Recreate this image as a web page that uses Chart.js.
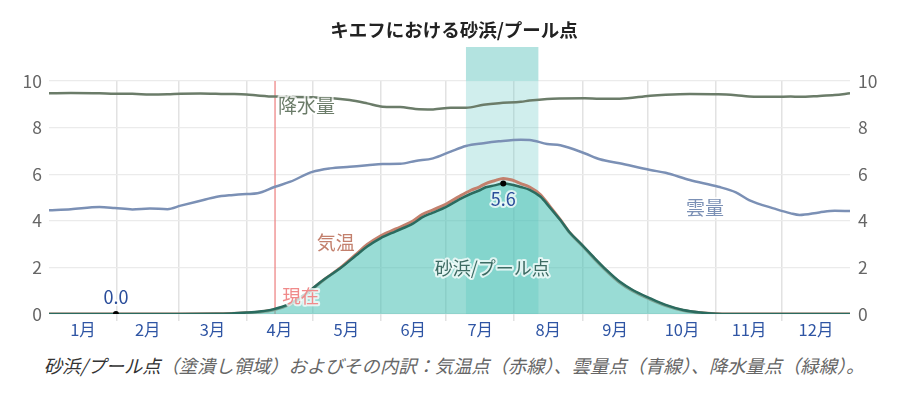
<!DOCTYPE html>
<html lang="ja">
<head>
<meta charset="utf-8">
<title>キエフにおける砂浜/プール点</title>
<script src="https://cdn.jsdelivr.net/npm/chart.js@4.4.1/dist/chart.umd.min.js"></script>
<style>
  body { margin: 0; background: #fff; font-family: "Noto Sans CJK JP", "Noto Sans", sans-serif; }
  #wrap { position: relative; width: 908px; height: 345px; }
  #caption {
    width: 908px; height: 52px; line-height: 40px; text-align: center;
    font-size: 18.3px; font-style: italic; color: #666; white-space: nowrap;
  }
  #caption b { font-weight: normal; color: #333; }
</style>
</head>
<body>
<div id="wrap"><canvas id="beach-chart"></canvas></div>
<div id="caption"><b>砂浜/プール点</b>（塗潰し領域）およびその内訳：気温点（赤線）、雲量点（青線）、降水量点（緑線）。</div>
<script>
// Month axis (day of year)
const monthNames = ['1月', '2月', '3月', '4月', '5月', '6月', '7月', '8月', '9月', '10月', '11月', '12月'];
const monthStarts = [0, 31, 59, 90, 120, 151, 181, 212, 243, 273, 304, 334, 365];

// Beach/pool score and its temperature component
const scoreDays = [0, 30.5, 60, 76, 83, 90, 96, 102, 110, 117, 125, 133, 140, 145, 151, 158, 166, 170, 175, 181, 187, 192, 196, 199, 203, 207, 211, 215, 219, 224, 228, 233, 237, 243, 248, 254, 260, 266, 274, 281, 289, 297, 304, 310, 365];
const beachScore = [0, 0, 0, 0.01, 0.02, 0.06, 0.11, 0.2, 0.46, 0.87, 1.46, 1.98, 2.52, 2.9, 3.25, 3.55, 3.89, 4.15, 4.35, 4.6, 4.92, 5.15, 5.3, 5.44, 5.52, 5.6, 5.55, 5.45, 5.33, 5.03, 4.6, 4.03, 3.53, 2.96, 2.46, 1.89, 1.39, 1.03, 0.67, 0.39, 0.17, 0.06, 0.01, 0, 0];
const tempScore = [0, 0, 0, 0.01, 0.02, 0.05, 0.09, 0.17, 0.42, 0.84, 1.45, 2.0, 2.57, 2.98, 3.35, 3.65, 4.0, 4.27, 4.47, 4.72, 5.05, 5.3, 5.45, 5.6, 5.72, 5.82, 5.75, 5.6, 5.45, 5.12, 4.65, 4.05, 3.52, 2.93, 2.42, 1.85, 1.35, 0.99, 0.63, 0.36, 0.15, 0.05, 0.01, 0, 0];

// Cloud and precipitation components
const climateDays = [0, 10, 23, 30, 38, 46, 54, 60, 69, 76, 83, 90, 95, 103, 110, 120, 128, 137, 145, 152, 160, 167, 175, 183, 190, 198, 205, 215, 219, 227, 233, 244, 251, 260, 274, 281, 292, 305, 313, 319, 331, 338, 342, 351, 358, 365];
const cloudScore = [4.45, 4.5, 4.59, 4.55, 4.49, 4.53, 4.5, 4.65, 4.86, 5.02, 5.1, 5.15, 5.18, 5.46, 5.68, 6.1, 6.25, 6.32, 6.38, 6.44, 6.45, 6.57, 6.68, 6.97, 7.21, 7.33, 7.41, 7.48, 7.47, 7.3, 7.24, 6.9, 6.64, 6.47, 6.18, 6.06, 5.75, 5.46, 5.22, 4.89, 4.51, 4.32, 4.25, 4.36, 4.43, 4.42];
const rainScore = [9.47, 9.48, 9.47, 9.45, 9.45, 9.42, 9.43, 9.45, 9.46, 9.45, 9.44, 9.42, 9.38, 9.33, 9.32, 9.3, 9.27, 9.18, 9.04, 8.9, 8.88, 8.8, 8.78, 8.85, 8.85, 8.98, 9.05, 9.11, 9.16, 9.23, 9.25, 9.26, 9.24, 9.24, 9.37, 9.41, 9.44, 9.43, 9.39, 9.34, 9.32, 9.33, 9.32, 9.36, 9.4, 9.47];

// Minimum / maximum markers, best period, today
const extremeDays = [30.5, 207];
const extremeValues = [0.0, 5.6];
const bestPeriod = [190, 223];
const todayDay = 103;

const yTicks = [0, 2, 4, 6, 8, 10];

const FONT = '"Noto Sans CJK JP", "Noto Sans", sans-serif';

function toPoints(days, values) {
  return days.map((d, i) => ({ x: d, y: values[i] }));
}

const monthMids = monthNames.map((m, i) => (monthStarts[i] + monthStarts[i + 1]) / 2);

// Band, today line and text labels
const overlayPlugin = {
  id: 'overlay',
  beforeDatasetsDraw(chart) {
    const { ctx, chartArea, scales } = chart;
    const x = scales.x;
    const x0 = x.getPixelForValue(bestPeriod[0]);
    const x1 = x.getPixelForValue(bestPeriod[1]);
    ctx.save();
    ctx.fillStyle = '#b3e3e0';
    ctx.fillRect(x0, 47, x1 - x0, chartArea.top - 47);
    ctx.fillStyle = 'rgba(100, 200, 195, 0.3)';
    ctx.fillRect(x0, chartArea.top, x1 - x0, chartArea.bottom - chartArea.top);

    const xt = x.getPixelForValue(todayDay);
    ctx.strokeStyle = '#ee8888';
    ctx.lineWidth = 1.3;
    ctx.beginPath();
    ctx.moveTo(xt, chartArea.top);
    ctx.lineTo(xt, chartArea.bottom);
    ctx.stroke();
    ctx.restore();
  },
  afterDatasetsDraw(chart) {
    const { ctx, scales } = chart;
    const x = scales.x, y = scales.y;
    const label = (text, day, val, color, align, size) => {
      ctx.font = size + 'px ' + FONT;
      ctx.textAlign = align;
      ctx.textBaseline = 'middle';
      ctx.lineJoin = 'round';
      ctx.strokeStyle = 'rgba(255,255,255,0.75)';
      ctx.lineWidth = 4;
      const px = x.getPixelForValue(day), py = y.getPixelForValue(val);
      ctx.strokeText(text, px, py);
      ctx.fillStyle = color;
      ctx.fillText(text, px, py);
    };
    ctx.save();
    label('降水量', 104.3, 8.93, '#6b7c69', 'left', 19);
    label('雲量', 298.9, 4.55, '#7b90b5', 'center', 19);
    label('気温', 130.7, 3.05, '#c3806d', 'center', 19);
    label('砂浜/プール点', 202, 1.97, '#3d6b63', 'center', 18);
    label('現在', todayDay + 3.3, 0.77, '#f08a8a', 'left', 18.5);
    // min above, max below
    label(extremeValues[0].toFixed(1), extremeDays[0], extremeValues[0] + 0.73, '#2a4d9a', 'center', 18);
    label(extremeValues[1].toFixed(1), extremeDays[1], extremeValues[1] - 0.69, '#2a4d9a', 'center', 18);
    ctx.restore();
  }
};

const ctx = document.getElementById('beach-chart').getContext('2d');

new Chart(ctx, {
  type: 'line',
  data: {
    datasets: [
      {
        label: '極値',
        data: toPoints(extremeDays, extremeValues),
        showLine: false,
        pointRadius: 3,
        pointBackgroundColor: '#000',
        pointBorderWidth: 0,
        order: 0
      },
      {
        label: '砂浜/プール点',
        data: toPoints(scoreDays, beachScore),
        borderColor: '#2a6b5f',
        borderWidth: 2.5,
        backgroundColor: 'rgba(70, 191, 179, 0.55)',
        fill: 'origin',
        pointRadius: 0,
        cubicInterpolationMode: 'monotone',
        order: 1
      },
      {
        label: '気温',
        data: toPoints(scoreDays, tempScore),
        borderColor: '#c3806d',
        borderWidth: 3,
        fill: false,
        pointRadius: 0,
        cubicInterpolationMode: 'monotone',
        order: 2
      },
      {
        label: '雲量',
        data: toPoints(climateDays, cloudScore),
        borderColor: '#7b90b5',
        borderWidth: 2.5,
        fill: false,
        pointRadius: 0,
        cubicInterpolationMode: 'monotone',
        order: 3
      },
      {
        label: '降水量',
        data: toPoints(climateDays, rainScore),
        borderColor: '#6b7c69',
        borderWidth: 2.5,
        fill: false,
        pointRadius: 0,
        cubicInterpolationMode: 'monotone',
        order: 4
      }
    ]
  },
  options: {
    responsive: true,
    maintainAspectRatio: false,
    animation: false,
    layout: { padding: 0 },
    scales: {
      x: {
        type: 'linear',
        min: 0,
        max: 365,
        afterBuildTicks: scale => {
          scale.ticks = monthStarts.concat(monthMids).sort((a, b) => a - b).map(v => ({ value: v }));
        },
        afterFit: scale => { scale.height = 31; },
        grid: {
          color: c => (c.tick && monthStarts.includes(c.tick.value) && c.tick.value > 0 && c.tick.value < 365) ? '#e2e2e2' : 'transparent',
          lineWidth: 1.5,
          tickLength: 7,
          drawOnChartArea: true
        },
        border: { display: false },
        ticks: {
          autoSkip: false,
          maxRotation: 0,
          padding: -1,
          color: '#2f55a4',
          font: { family: FONT, size: 16.5 },
          callback: value => {
            const i = monthMids.indexOf(value);
            return i >= 0 ? monthNames[i] : '';
          }
        }
      },
      y: {
        position: 'left',
        min: 0,
        max: 10,
        afterBuildTicks: scale => { scale.ticks = yTicks.map(v => ({ value: v })); },
        afterFit: scale => { scale.width = 49; },
        grid: { color: '#ebebeb', lineWidth: 1.2, drawTicks: false },
        border: { display: false },
        ticks: { padding: 7, color: '#666', font: { family: FONT, size: 17.5 } }
      },
      y2: {
        position: 'right',
        min: 0,
        max: 10,
        afterBuildTicks: scale => { scale.ticks = yTicks.map(v => ({ value: v })); },
        afterFit: scale => { scale.width = 58; },
        grid: { display: false, drawTicks: false },
        border: { display: false },
        ticks: { padding: 8, color: '#666', font: { family: FONT, size: 17.5 } }
      }
    },
    plugins: {
      legend: { display: false },
      tooltip: { enabled: false },
      title: {
        display: true,
        text: 'キエフにおける砂浜/プール点',
        color: '#222',
        font: { family: FONT, size: 18.5, weight: 'bold', lineHeight: 1.2 },
        padding: { top: 18.5, bottom: 40.3 }
      }
    }
  },
  plugins: [overlayPlugin]
});
</script>
</body>
</html>
